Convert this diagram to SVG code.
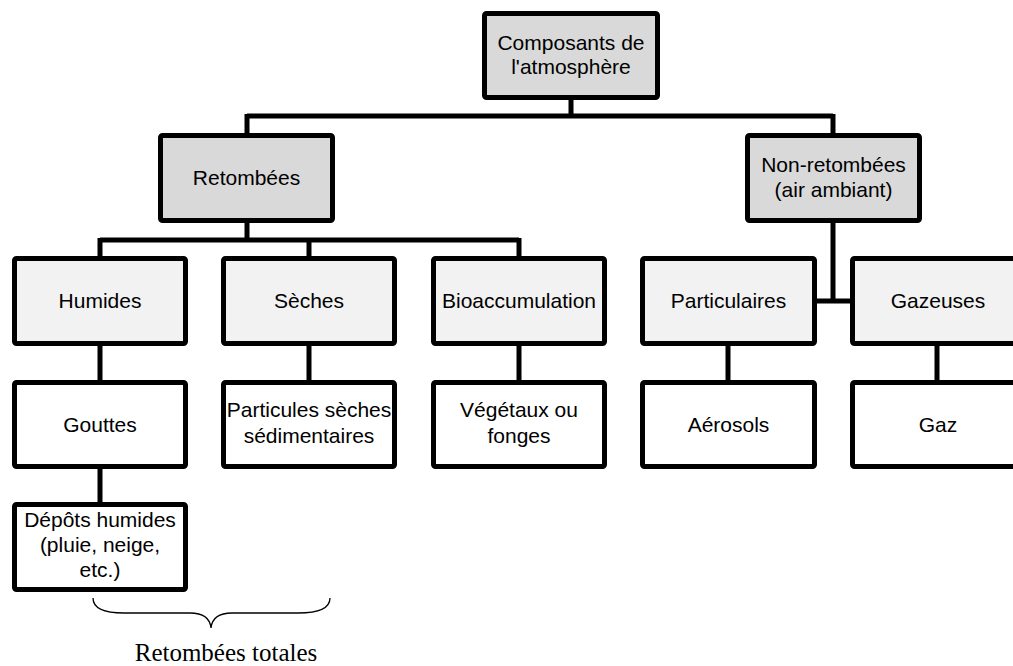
<svg xmlns="http://www.w3.org/2000/svg" width="1013" height="666" viewBox="0 0 1013 666">
<style>
.box{stroke:#000;stroke-width:5;}
.l1{fill:#d9d9d9;}
.l2{fill:#f2f2f2;}
.l3{fill:#ffffff;}
.t{font-family:"Liberation Sans",Arial,sans-serif;font-size:21px;fill:#000;text-anchor:middle;}
.c{stroke:#000;stroke-width:5;fill:none;stroke-linejoin:miter;}
</style>
<rect width="1013" height="666" fill="#fff"/>
<g id="connectors">
<path class="c" d="M571,100 V116 M247,116 H833 M247,114 V133 M833,114 V133"/>
<path class="c" d="M247,223 V240 M100,240 H519 M100,238 V256 M309,238 V256 M519,238 V256"/>
<path class="c" d="M100,346 V380 M100,469 V502 M309,346 V380 M519,346 V380"/>
<path class="c" d="M833,223 V301 M817,301 H850"/>
<path class="c" d="M728,345 V380 M937,345 V380"/>
</g>
<g id="n-composants"><rect class="box l1" x="484.5" y="13.5" width="173" height="84" rx="2"/><text class="t" x="571" y="50">Composants de</text><text class="t" x="571" y="74">l'atmosphère</text></g>
<g id="n-retombees"><rect class="box l1" x="160.5" y="135.5" width="172" height="85" rx="2"/><text class="t" x="246.5" y="185">Retombées</text></g>
<g id="n-nonretombees"><rect class="box l1" x="747.5" y="135.5" width="172" height="85" rx="2"/><text class="t" x="833.5" y="172">Non-retombées</text><text class="t" x="833.5" y="197">(air ambiant)</text></g>
<g id="n-humides"><rect class="box l2" x="14.5" y="258.5" width="171" height="85" rx="2"/><text class="t" x="100" y="308">Humides</text></g>
<g id="n-seches"><rect class="box l2" x="223.5" y="258.5" width="171" height="85" rx="2"/><text class="t" x="309" y="308">Sèches</text></g>
<g id="n-bioaccumulation"><rect class="box l2" x="433.5" y="258.5" width="171" height="85" rx="2"/><text class="t" x="519" y="308">Bioaccumulation</text></g>
<g id="n-particulaires"><rect class="box l2" x="642.5" y="258.5" width="172" height="85" rx="2"/><text class="t" x="728.5" y="308">Particulaires</text></g>
<g id="n-gazeuses"><rect class="box l2" x="852.5" y="258.5" width="171" height="85" rx="2"/><text class="t" x="938" y="308">Gazeuses</text></g>
<g id="n-gouttes"><rect class="box l3" x="14.5" y="382.5" width="171" height="84" rx="2"/><text class="t" x="100" y="432">Gouttes</text></g>
<g id="n-particules"><rect class="box l3" x="223.5" y="382.5" width="171" height="84" rx="2"/><text class="t" x="309" y="417">Particules sèches</text><text class="t" x="309" y="443">sédimentaires</text></g>
<g id="n-vegetaux"><rect class="box l3" x="433.5" y="382.5" width="171" height="84" rx="2"/><text class="t" x="519" y="417">Végétaux ou</text><text class="t" x="519" y="443">fonges</text></g>
<g id="n-aerosols"><rect class="box l3" x="642.5" y="382.5" width="172" height="84" rx="2"/><text class="t" x="728.5" y="432">Aérosols</text></g>
<g id="n-gaz"><rect class="box l3" x="852.5" y="382.5" width="171" height="84" rx="2"/><text class="t" x="938" y="432">Gaz</text></g>
<g id="n-depots"><rect class="box l3" x="14.5" y="504.5" width="171" height="85" rx="2"/><text class="t" x="100" y="527">Dépôts humides</text><text class="t" x="100" y="552">(pluie, neige,</text><text class="t" x="100" y="577">etc.)</text></g>
<g id="brace">
<path d="M93,598 C93,609 104,613 124,613 L190,613 C203,613 210,618 211,628 C212,618 219,613 232,613 L298,613 C318,613 330,609 330,598" fill="none" stroke="#000" stroke-width="1.3"/>
<text x="226" y="661" font-family="Liberation Serif,serif" font-size="25" text-anchor="middle" fill="#000">Retombées totales</text>
</g>
</svg>
